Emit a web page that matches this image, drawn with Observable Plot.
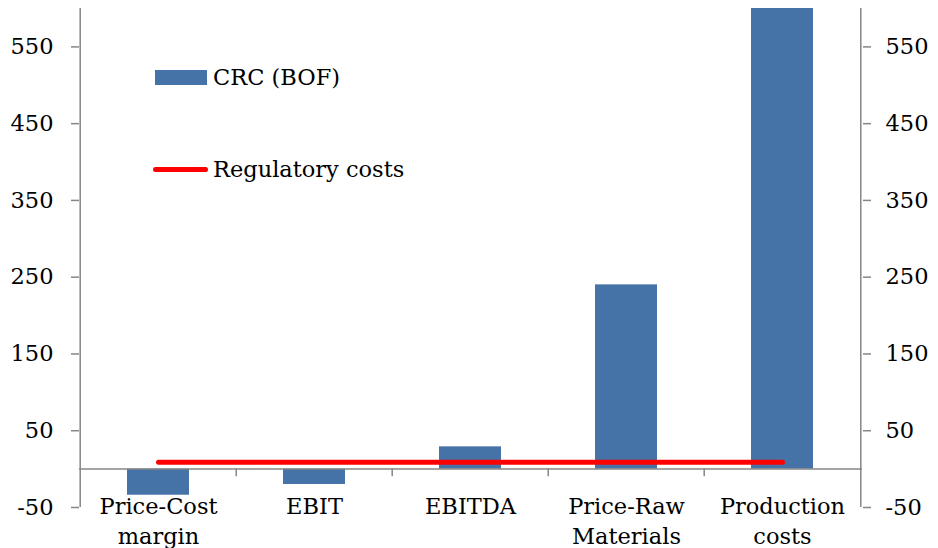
<!DOCTYPE html>
<html><head><meta charset="utf-8">
<script src="https://cdn.jsdelivr.net/npm/d3@7"></script>
<script src="https://cdn.jsdelivr.net/npm/@observablehq/plot@0.6"></script>
<style>
html,body{margin:0;padding:0;background:#fff;}
#wrap{position:relative;width:938px;height:548px;font-family:"DejaVu Serif",serif;}
.lg{position:absolute;display:flex;align-items:center;font-size:22.5px;line-height:1;color:#000;white-space:nowrap;}
.sw{display:inline-block;}
</style></head><body><div id="wrap"></div>
<script>
const categories = ["Price-Cost margin", "EBIT", "EBITDA", "Price-Raw Materials", "Production costs"];
const tickLabels = ["Price-Cost\nmargin", "EBIT", "EBITDA", "Price-Raw\nMaterials", "Production\ncosts"];
const crcValues = [-34, -20, 29, 240, 600];
const regulatoryValues = [9, 9, 9, 9, 9];
const yTicks = [-50, 50, 150, 250, 350, 450, 550];
const seriesNames = ["CRC (BOF)", "Regulatory costs"];
const seriesColors = ["#4572A7", "#FF0000"];

const W = 938, H = 548, ml = 79, mr = 76, mt = 8, mb = 41;
const step = (W - ml - mr) / categories.length;
const fs = 22.5;
const axisGray = "#868686";
const data = categories.map((c, i) => ({category: c, label: tickLabels[i], crc: crcValues[i], reg: regulatoryValues[i]}));

const plot = Plot.plot({
  width: W, height: H, marginLeft: ml, marginRight: mr, marginTop: mt, marginBottom: mb,
  style: {fontFamily: "DejaVu Serif", fontSize: fs + "px", color: "#000", background: "#fff", overflow: "visible"},
  x: {type: "band", domain: categories, paddingInner: 0.6, paddingOuter: 0.3, axis: null},
  y: {domain: [-50, 600]},
  marks: [
    Plot.barY(data, {x: "category", y: "crc", fill: seriesColors[0]}),
    Plot.ruleY([0], {stroke: axisGray, strokeWidth: 1.5}),
    Plot.ruleX(categories.slice(1), {x: d => d, y1: 0, y2: -10, dx: -step / 2, stroke: axisGray, strokeWidth: 1.5}),
    Plot.ruleX([categories[0]], {x: d => d, dx: -step / 2, stroke: axisGray, strokeWidth: 1.5}),
    Plot.ruleX([categories[categories.length - 1]], {x: d => d, dx: step / 2, stroke: axisGray, strokeWidth: 1.5}),
    Plot.line(data, {x: "category", y: "reg", stroke: seriesColors[1], strokeWidth: 5, strokeLinecap: "round"}),
    Plot.axisY({anchor: "left", ticks: yTicks, tickSize: 8, tickPadding: 18, stroke: axisGray, strokeWidth: 1.5, fill: "#000", fontSize: fs, tickFormat: d => String(d)}),
    Plot.axisY({anchor: "right", ticks: yTicks, tickSize: 8, tickPadding: 15, stroke: axisGray, strokeWidth: 1.5, fill: "#000", fontSize: fs, tickFormat: d => String(d)}),
    Plot.text(data, {x: "category", y: 0, text: "label", lineAnchor: "top", dy: 24, lineHeight: 1.32, fontSize: fs, fill: "#000"})
  ]
});
const wrap = document.getElementById("wrap");
wrap.appendChild(plot);

// legend overlay
const l1 = document.createElement("div");
l1.className = "lg"; l1.style.left = "155px"; l1.style.top = "66px";
l1.innerHTML = `<span class="sw" style="width:52px;height:14.5px;background:${seriesColors[0]};margin-right:6px"></span><span>${seriesNames[0]}</span>`;
wrap.appendChild(l1);
const l2 = document.createElement("div");
l2.className = "lg"; l2.style.left = "153px"; l2.style.top = "158px";
l2.innerHTML = `<span class="sw" style="width:55px;height:5.5px;border-radius:3px;background:${seriesColors[1]};margin-right:5px"></span><span>${seriesNames[1]}</span>`;
wrap.appendChild(l2);
</script>
</body></html>
